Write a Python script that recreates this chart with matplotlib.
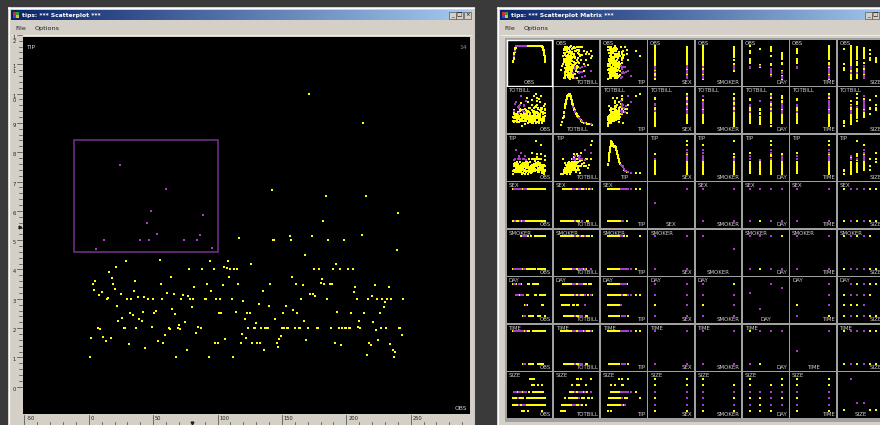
import numpy as np
import matplotlib.pyplot as plt
from matplotlib.patches import Rectangle
from matplotlib.colors import LinearSegmentedColormap

# restaurant tips data, one entry per bill (obs 1..244)
totbill = [
    16.99, 10.34, 21.01, 23.68, 24.59, 25.29, 8.77, 26.88, 15.04, 14.78, 10.27, 35.26, 15.42, 18.43, 14.83, 21.58, 10.33, 16.29, 16.97, 20.65,
    17.92, 20.29, 15.77, 39.42, 19.82, 17.81, 13.37, 12.69, 21.70, 19.65, 9.55, 18.35, 15.06, 20.69, 17.78, 24.06, 16.31, 16.93, 18.69, 31.27,
    16.04, 17.46, 13.94, 9.68, 30.40, 18.29, 22.23, 32.40, 28.55, 18.04, 12.54, 10.29, 34.81, 9.94, 25.56, 19.49, 38.01, 26.41, 11.24, 48.27,
    20.29, 13.81, 11.02, 18.29, 17.59, 20.08, 16.45, 3.07, 20.23, 15.01, 12.02, 17.07, 26.86, 25.28, 14.73, 10.51, 17.92, 27.20, 22.76, 17.29,
    19.44, 16.66, 10.07, 32.68, 15.98, 34.83, 13.03, 18.28, 24.71, 21.16, 28.97, 22.49, 5.75, 16.32, 22.75, 40.17, 27.28, 12.03, 21.01, 12.46,
    11.35, 15.38, 44.30, 22.42, 20.92, 15.36, 20.49, 25.21, 18.24, 14.31, 14.00, 7.25, 38.07, 23.95, 25.71, 17.31, 29.93, 10.65, 12.43, 24.08,
    11.69, 13.42, 14.26, 15.95, 12.48, 29.80, 8.52, 14.52, 11.38, 22.82, 19.08, 20.27, 11.17, 12.26, 18.26, 8.51, 10.33, 14.15, 16.00, 13.16,
    17.47, 34.30, 41.19, 27.05, 16.43, 8.35, 18.64, 11.87, 9.78, 7.51, 14.07, 13.13, 17.26, 24.55, 19.77, 29.85, 48.17, 25.00, 13.39, 16.49,
    21.50, 12.66, 16.21, 13.81, 17.51, 24.52, 20.76, 31.71, 10.59, 10.63, 50.81, 15.81, 7.25, 31.85, 16.82, 32.90, 17.89, 14.48, 9.60, 34.63,
    34.65, 23.33, 45.35, 23.17, 40.55, 20.69, 20.90, 30.46, 18.15, 23.10, 15.69, 19.81, 28.44, 15.48, 16.58, 7.56, 10.34, 43.11, 13.00, 13.51,
    18.71, 12.74, 13.00, 16.40, 20.53, 16.47, 26.59, 38.73, 24.27, 12.76, 30.06, 25.89, 48.33, 13.27, 28.17, 12.90, 28.15, 11.59, 7.74, 30.14,
    12.16, 13.42, 8.58, 15.98, 13.42, 16.27, 10.09, 20.45, 13.28, 22.12, 24.01, 15.69, 11.61, 10.77, 15.53, 10.07, 12.60, 32.83, 35.83, 29.03,
    27.18, 22.67, 17.82, 18.78]
tip = [
    1.01, 1.66, 3.50, 3.31, 3.61, 4.71, 2.00, 3.12, 1.96, 3.23, 1.71, 5.00, 1.57, 3.00, 3.02, 3.92, 1.67, 3.71, 3.50, 3.35,
    4.08, 2.75, 2.23, 7.58, 3.18, 2.34, 2.00, 2.00, 4.30, 3.00, 1.45, 2.50, 3.00, 2.45, 3.27, 3.60, 2.00, 3.07, 2.31, 5.00,
    2.24, 2.54, 3.06, 1.32, 5.60, 3.00, 5.00, 6.00, 2.05, 3.00, 2.50, 2.60, 5.20, 1.56, 4.34, 3.51, 3.00, 1.50, 1.76, 6.73,
    3.21, 2.00, 1.98, 3.76, 2.64, 3.15, 2.47, 1.00, 2.01, 2.09, 1.97, 3.00, 3.14, 5.00, 2.20, 1.25, 3.08, 4.00, 3.00, 2.71,
    3.00, 3.40, 1.83, 5.00, 2.03, 5.17, 2.00, 4.00, 5.85, 3.00, 3.00, 3.50, 1.00, 4.30, 3.25, 4.73, 4.00, 1.50, 3.00, 1.50,
    2.50, 3.00, 2.50, 3.48, 4.08, 1.64, 4.06, 4.29, 3.76, 4.00, 3.00, 1.00, 4.00, 2.55, 4.00, 3.50, 5.07, 1.50, 1.80, 2.92,
    2.31, 1.68, 2.50, 2.00, 2.52, 4.20, 1.48, 2.00, 2.00, 2.18, 1.50, 2.83, 1.50, 2.00, 3.25, 1.25, 2.00, 2.00, 2.00, 2.75,
    3.50, 6.70, 5.00, 5.00, 2.30, 1.50, 1.36, 1.63, 1.73, 2.00, 2.50, 2.00, 2.74, 2.00, 2.00, 5.14, 5.00, 3.75, 2.61, 2.00,
    3.50, 2.50, 2.00, 2.00, 3.00, 3.48, 2.24, 4.50, 1.61, 2.00, 10.00, 3.16, 5.15, 3.18, 4.00, 3.11, 2.00, 2.00, 4.00, 3.55,
    3.68, 5.65, 3.50, 6.50, 3.00, 5.00, 3.50, 2.00, 3.50, 4.00, 1.50, 4.19, 2.56, 2.02, 4.00, 1.44, 2.00, 5.00, 2.00, 2.00,
    4.00, 2.01, 2.00, 2.50, 4.00, 3.23, 3.41, 3.00, 2.03, 2.23, 2.00, 5.16, 9.00, 2.50, 6.50, 1.10, 3.00, 1.50, 1.44, 3.09,
    2.20, 3.48, 1.92, 3.00, 1.58, 2.50, 2.00, 3.00, 2.72, 2.88, 2.00, 3.00, 3.39, 1.47, 3.00, 1.25, 1.00, 1.17, 4.67, 5.92,
    2.00, 2.00, 1.75, 3.00]
# 0 = female, 1 = male
sex = [
    0, 1, 1, 1, 0, 1, 1, 1, 1, 1, 1, 0, 1, 1, 0, 1, 0, 1, 0, 1,
    1, 0, 0, 1, 1, 1, 1, 1, 1, 0, 1, 1, 0, 0, 1, 1, 1, 0, 1, 1,
    1, 1, 1, 1, 1, 1, 1, 1, 1, 1, 1, 0, 0, 1, 1, 1, 1, 0, 1, 1,
    1, 1, 1, 1, 1, 1, 0, 0, 1, 1, 1, 0, 0, 0, 0, 1, 1, 1, 1, 1,
    1, 1, 0, 1, 1, 0, 1, 1, 1, 1, 1, 1, 0, 0, 0, 1, 1, 1, 1, 1,
    0, 0, 0, 0, 0, 1, 1, 1, 1, 0, 1, 0, 1, 1, 0, 0, 1, 0, 0, 0,
    1, 0, 1, 1, 0, 0, 1, 0, 0, 1, 1, 0, 0, 0, 0, 0, 0, 0, 1, 0,
    0, 1, 1, 0, 0, 0, 0, 0, 1, 1, 1, 1, 1, 1, 1, 0, 1, 0, 0, 1,
    1, 1, 0, 1, 0, 1, 1, 1, 0, 0, 1, 1, 1, 1, 1, 1, 1, 1, 0, 1,
    1, 1, 1, 1, 1, 1, 0, 1, 0, 1, 1, 0, 1, 1, 1, 1, 1, 0, 0, 1,
    1, 0, 0, 0, 1, 0, 1, 1, 1, 0, 1, 1, 1, 0, 0, 0, 1, 1, 1, 0,
    1, 0, 1, 0, 1, 0, 0, 1, 1, 0, 1, 1, 1, 1, 1, 1, 1, 1, 0, 1,
    0, 1, 1, 0]
# 0 = no, 1 = yes
smoker = [
    0, 0, 0, 0, 0, 0, 0, 0, 0, 0, 0, 0, 0, 0, 0, 0, 0, 0, 0, 0,
    0, 0, 0, 0, 0, 0, 0, 0, 0, 0, 0, 0, 0, 0, 0, 0, 0, 0, 0, 0,
    0, 0, 0, 0, 0, 0, 0, 0, 0, 0, 0, 0, 0, 0, 0, 0, 1, 0, 1, 0,
    1, 1, 1, 1, 0, 0, 0, 1, 0, 1, 0, 0, 1, 1, 0, 0, 1, 0, 0, 0,
    1, 0, 0, 1, 0, 0, 0, 0, 0, 0, 1, 0, 1, 1, 0, 1, 1, 1, 1, 0,
    1, 1, 1, 1, 0, 1, 1, 1, 0, 1, 0, 0, 0, 0, 0, 0, 0, 0, 0, 0,
    0, 0, 0, 0, 0, 0, 0, 0, 0, 0, 0, 0, 0, 0, 0, 0, 0, 0, 1, 0,
    0, 0, 0, 0, 0, 0, 0, 0, 0, 0, 0, 0, 0, 0, 0, 0, 0, 0, 0, 0,
    0, 0, 0, 0, 1, 0, 0, 0, 1, 1, 1, 1, 1, 1, 1, 1, 1, 1, 1, 1,
    1, 1, 1, 1, 1, 0, 1, 1, 1, 1, 1, 1, 1, 1, 1, 0, 1, 1, 1, 1,
    1, 1, 1, 1, 1, 1, 1, 1, 1, 1, 1, 1, 0, 1, 1, 1, 1, 1, 1, 1,
    1, 1, 1, 0, 1, 1, 1, 0, 0, 1, 1, 1, 0, 0, 1, 0, 1, 1, 0, 0,
    1, 1, 0, 0]
# 0 = Thur, 1 = Fri, 2 = Sat, 3 = Sun
day = [
    3, 3, 3, 3, 3, 3, 3, 3, 3, 3, 3, 3, 3, 3, 3, 3, 3, 3, 3, 2,
    2, 2, 2, 2, 2, 2, 2, 2, 2, 2, 2, 2, 2, 2, 2, 2, 2, 2, 2, 2,
    2, 3, 3, 3, 3, 3, 3, 3, 3, 3, 3, 3, 3, 3, 3, 3, 2, 2, 2, 2,
    2, 2, 2, 2, 2, 2, 2, 2, 2, 2, 2, 2, 2, 2, 2, 2, 2, 0, 0, 0,
    0, 0, 0, 0, 0, 0, 0, 0, 0, 0, 1, 1, 1, 1, 1, 1, 1, 1, 1, 1,
    1, 1, 2, 2, 2, 2, 2, 2, 2, 2, 2, 2, 3, 3, 3, 3, 3, 0, 0, 0,
    0, 0, 0, 0, 0, 0, 0, 0, 0, 0, 0, 0, 0, 0, 0, 0, 0, 0, 0, 0,
    0, 0, 0, 0, 0, 0, 0, 0, 0, 0, 3, 3, 3, 3, 3, 3, 3, 3, 3, 3,
    3, 3, 3, 3, 3, 3, 3, 3, 2, 2, 2, 2, 3, 3, 3, 3, 3, 3, 3, 3,
    3, 3, 3, 3, 3, 3, 3, 3, 3, 3, 3, 0, 0, 0, 0, 0, 0, 0, 0, 0,
    0, 0, 0, 0, 0, 0, 2, 2, 2, 2, 2, 2, 2, 2, 2, 2, 2, 2, 2, 2,
    1, 1, 1, 1, 1, 1, 1, 2, 2, 2, 2, 2, 2, 2, 2, 2, 2, 2, 2, 2,
    2, 2, 2, 0]
# 0 = lunch, 1 = dinner
time = [
    1, 1, 1, 1, 1, 1, 1, 1, 1, 1, 1, 1, 1, 1, 1, 1, 1, 1, 1, 1,
    1, 1, 1, 1, 1, 1, 1, 1, 1, 1, 1, 1, 1, 1, 1, 1, 1, 1, 1, 1,
    1, 1, 1, 1, 1, 1, 1, 1, 1, 1, 1, 1, 1, 1, 1, 1, 1, 1, 1, 1,
    1, 1, 1, 1, 1, 1, 1, 1, 1, 1, 1, 1, 1, 1, 1, 1, 1, 0, 0, 0,
    0, 0, 0, 0, 0, 0, 0, 0, 0, 0, 1, 1, 1, 1, 1, 1, 1, 1, 1, 1,
    1, 1, 1, 1, 1, 1, 1, 1, 1, 1, 1, 1, 1, 1, 1, 1, 1, 0, 0, 0,
    0, 0, 0, 0, 0, 0, 0, 0, 0, 0, 0, 0, 0, 0, 0, 0, 0, 0, 0, 0,
    0, 0, 0, 0, 0, 0, 0, 0, 0, 0, 1, 1, 1, 1, 1, 1, 1, 1, 1, 1,
    1, 1, 1, 1, 1, 1, 1, 1, 1, 1, 1, 1, 1, 1, 1, 1, 1, 1, 1, 1,
    1, 1, 1, 1, 1, 1, 1, 1, 1, 1, 1, 0, 0, 0, 0, 0, 0, 0, 0, 0,
    0, 0, 0, 0, 0, 0, 1, 1, 1, 1, 1, 1, 1, 1, 1, 1, 1, 1, 1, 1,
    0, 0, 0, 0, 0, 0, 0, 1, 1, 1, 1, 1, 1, 1, 1, 1, 1, 1, 1, 1,
    1, 1, 1, 1]
size = [
    2, 3, 3, 2, 4, 4, 2, 4, 2, 2, 2, 4, 2, 4, 2, 2, 3, 3, 3, 3,
    2, 2, 2, 4, 2, 4, 2, 2, 2, 2, 2, 4, 2, 4, 2, 3, 3, 3, 3, 3,
    3, 2, 2, 2, 4, 2, 2, 4, 3, 2, 2, 2, 4, 2, 4, 2, 4, 2, 2, 4,
    2, 2, 2, 4, 3, 3, 2, 1, 2, 2, 2, 3, 2, 2, 2, 2, 2, 4, 2, 2,
    2, 2, 1, 2, 2, 4, 2, 2, 2, 2, 2, 2, 2, 2, 2, 4, 2, 2, 2, 2,
    2, 2, 3, 2, 2, 2, 2, 2, 2, 2, 2, 1, 3, 2, 3, 2, 4, 2, 2, 4,
    2, 2, 2, 2, 2, 6, 2, 2, 2, 3, 2, 2, 2, 2, 2, 2, 2, 2, 2, 2,
    2, 6, 5, 6, 2, 2, 3, 2, 2, 2, 2, 2, 3, 4, 4, 5, 6, 4, 2, 4,
    4, 2, 3, 2, 2, 3, 2, 4, 2, 2, 3, 2, 2, 2, 2, 2, 2, 2, 2, 2,
    4, 2, 3, 4, 2, 5, 3, 5, 3, 3, 2, 2, 2, 2, 2, 2, 2, 4, 2, 2,
    3, 2, 2, 2, 4, 3, 3, 4, 2, 2, 3, 4, 4, 2, 3, 2, 5, 2, 2, 4,
    2, 2, 1, 3, 2, 2, 2, 4, 2, 2, 4, 3, 2, 2, 2, 2, 2, 2, 3, 3,
    2, 2, 2, 2]
obs = list(range(1, len(tip) + 1))

varnames = ['OBS', 'TOTBILL', 'TIP', 'SEX', 'SMOKER', 'DAY', 'TIME', 'SIZE']
columns = [obs, totbill, tip, sex, smoker, day, time, size]

# brush box drawn on the OBS / TIP plot
brush_obs = (-11.8, 100.5)
brush_tip = (4.6, 8.4)

W, H = 880, 425
FACE = '#d4d0c8'
YEL = '#ffff00'
PUR = '#a43fc6'
LBL = '#d0d0d0'

o = np.array(obs, float)
t = np.array(tip, float)
brushed = (o >= brush_obs[0]) & (o <= brush_obs[1]) & (t >= brush_tip[0]) & (t <= brush_tip[1])


def lims(v, scale=0.7):
    # data range takes the middle 70% of a plot
    lo, hi = float(np.min(v)), float(np.max(v))
    c, r = (lo + hi) / 2, (hi - lo) / 2 / scale
    return c - r, c + r


def ash(v):
    # averaged shifted histogram height at each point (triangle weights)
    v = np.asarray(v, float)
    h = 0.1 * (v.max() - v.min())
    d = np.abs(v[:, None] - v[None, :]) / h
    return np.clip(1 - d, 0, None).sum(axis=1)


def pax(x, y, w, h):
    # axes placed in pixel units, measured from the top left
    ax = fig.add_axes([x / W, 1 - (y + h) / H, w / W, h / H])
    ax.set_xticks([])
    ax.set_yticks([])
    for s in ax.spines.values():
        s.set_visible(False)
    return ax


def dots(ax, x, y, s):
    x = np.asarray(x, float)
    y = np.asarray(y, float)
    ax.scatter(x[~brushed], y[~brushed], s=s, marker='s', c=YEL, linewidths=0)
    ax.scatter(x[brushed], y[brushed], s=s, marker='s', c=PUR, linewidths=0)


fig = plt.figure(figsize=(W / 100, H / 100), dpi=100)
fig.patch.set_facecolor('#3a3a3a')

# window frames, title bars and menus
bg = fig.add_axes([0, 0, 1, 1])
bg.set_zorder(-10)
bg.axis('off')
tbar = LinearSegmentedColormap.from_list('tbar', ['#0a246a', '#a6caf0'])
grad = np.linspace(0, 1, 256)[None, :]


def window(x0, x1, title, button_x):
    bg.add_patch(Rectangle((x0, 7), x1 - x0, 430, facecolor=FACE, edgecolor='none'))
    bg.plot([x0, x1], [7.5, 7.5], color='white', lw=0.8)
    bg.plot([x0 + 0.5, x0 + 0.5], [7, 430], color='white', lw=0.8)
    bg.plot([x1 - 0.5, x1 - 0.5], [7, 430], color='#404040', lw=0.8)
    bg.imshow(grad, extent=(x0 + 3, x1 - 3, 20, 10), aspect='auto', cmap=tbar, zorder=2)
    # little app icon
    for k, c in enumerate(['#d03030', '#30a030', '#3050d0', '#e0c020']):
        bg.add_patch(Rectangle((x0 + 5 + (k % 2) * 3, 11.5 + (k // 2) * 3), 3, 3,
                               facecolor=c, edgecolor='none', zorder=3))
    bg.text(x0 + 14, 15.2, title, color='white', fontsize=4.3, fontweight='bold',
            va='center', ha='left', zorder=3)
    for k, bx in enumerate(button_x):
        bg.add_patch(Rectangle((bx, 11.5), 7, 7, facecolor=FACE, edgecolor='#404040',
                               lw=0.4, zorder=3))
        glyph = ['_', '\u25a1', '\u00d7'][k]
        bg.text(bx + 3.5, 15, glyph, fontsize=4, ha='center', va='center', zorder=4)
    bg.text(x0 + 7, 28.5, 'File', fontsize=4.6, va='center', color='#202020')
    bg.text(x0 + 27, 28.5, 'Options', fontsize=4.6, va='center', color='#202020')
    bg.plot([x0 + 3, x1 - 3], [34.5, 34.5], color='#808080', lw=0.6)
    bg.plot([x0 + 3, x1 - 3], [35.3, 35.3], color='white', lw=0.6)


window(8, 475, 'tips: *** Scatterplot ***', [449, 456, 464])
window(497, 900, 'tips: *** Scatterplot Matrix ***', [865, 872])
bg.set_xlim(0, W)
bg.set_ylim(H, 0)

# OBS / TIP scatterplot
ax = pax(23, 37, 447, 377)
ax.set_facecolor('black')
xl, yl = lims(obs), lims(tip)
ax.set_xlim(*xl)
ax.set_ylim(*yl)
dots(ax, obs, tip, 4.0)
ax.add_patch(Rectangle((brush_obs[0], brush_tip[0]), brush_obs[1] - brush_obs[0],
                       brush_tip[1] - brush_tip[0], fill=False, edgecolor='#6f2e82', lw=1.2))
ax.text(0.006, 0.972, 'TIP', transform=ax.transAxes, color=LBL, fontsize=4.3, va='center')
ax.text(0.994, 0.972, '14', transform=ax.transAxes, color='#909090', fontsize=4.3,
        va='center', ha='right')
ax.text(0.994, 0.008, 'OBS', transform=ax.transAxes, color=LBL, fontsize=4.3,
        va='bottom', ha='right')

# rulers along the left and bottom
rl = pax(12, 37, 10, 377)
rl.set_facecolor(FACE)
rl.set_xlim(0, 1)
rl.set_ylim(*yl)
for v in np.arange(0, 12.01, 0.2):
    major = abs(v - round(v)) < 1e-6
    rl.plot([0.5 if major else 0.72, 1], [v, v], color='#303030', lw=0.45,
            clip_on=False)
    if major:
        rl.text(0.08, v, '\n'.join(str(int(round(v)))), fontsize=3.7, va='top',
                ha='left', linespacing=0.85, color='#202020', clip_on=False)
rl.plot([0.78], [5.45], marker='>', ms=2, color='#202020')

rb = pax(23, 414.5, 447, 11)
rb.set_facecolor(FACE)
rb.set_xlim(*xl)
rb.set_ylim(0, 1)
for v in range(-50, 291, 10):
    if v % 50 == 0:
        rb.plot([v, v], [0, 1], color='#303030', lw=0.45)
        rb.text(v + 1.5, 0.62, str(v), fontsize=3.7, va='center', ha='left', color='#202020')
    else:
        rb.plot([v, v], [0, 0.3], color='#303030', lw=0.45)
rb.plot([80.5], [0.2], marker='v', ms=2, color='#202020')

# scatterplot matrix: row = vertical variable, column = horizontal variable
mat = pax(504.5, 37.5, 400, 384)
mat.set_facecolor('#a0a0a0')
for i in range(8):
    for j in range(8):
        x0 = 506.5 + 47.3 * j
        y0 = 39.5 + 47.5 * i
        if x0 > W:
            continue
        cell = pax(x0, y0, 45.5, 46)
        cell.set_facecolor('black')
        xv = np.asarray(columns[j], float)
        cell.set_xlim(*lims(xv))
        if i == j:
            yv = ash(xv)
            cell.set_ylim(*lims([0, yv.max()]))
            cell.text(0.5, 0.02, varnames[j], transform=cell.transAxes, color=LBL,
                      fontsize=4, ha='center', va='bottom', zorder=5)
        else:
            yv = np.asarray(columns[i], float)
            cell.set_ylim(*lims(yv))
            cell.text(0.04, 0.97, varnames[i], transform=cell.transAxes, color=LBL,
                      fontsize=4, ha='left', va='top', zorder=5)
            cell.text(0.97, 0.02, varnames[j], transform=cell.transAxes, color=LBL,
                      fontsize=4, ha='right', va='bottom', zorder=5)
        dots(cell, xv, yv, 1.9)
        if i == 0 and j == 0:
            for s in cell.spines.values():
                s.set_visible(True)
                s.set_color('white')
                s.set_linewidth(1.0)

fig.savefig('out.png', dpi=100, facecolor=fig.get_facecolor())
